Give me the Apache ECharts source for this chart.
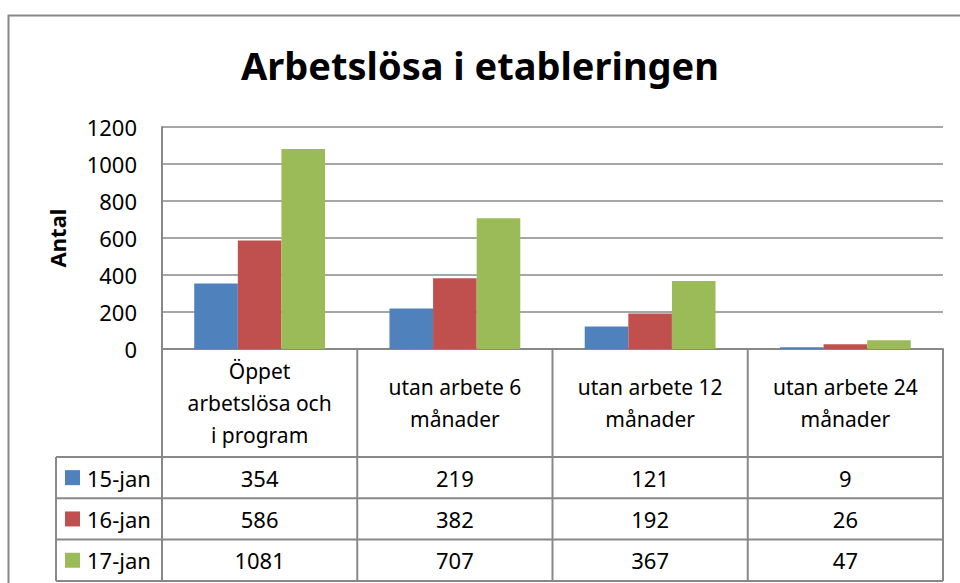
<!DOCTYPE html>
<html>
<head>
<meta charset="utf-8">
<script src="https://cdn.jsdelivr.net/npm/echarts@6/dist/echarts.min.js"></script>
<style>
  html, body { margin: 0; padding: 0; background: #fff; }
  #chart { width: 960px; height: 583px; }
</style>
</head>
<body>
<div id="chart"></div>
<script>
// data
var categories = ["Öppet\narbetslösa och\ni program", "utan arbete 6\nmånader", "utan arbete 12\nmånader", "utan arbete 24\nmånader"];
var seriesNames = ["15-jan", "16-jan", "17-jan"];
var jan15 = [354, 219, 121, 9];
var jan16 = [586, 382, 192, 26];
var jan17 = [1081, 707, 367, 47];
var yMin = 0, yMax = 1200, yStep = 200;

var colors = ["#4F81BD", "#C0504D", "#9BBB59"];
var values = [jan15, jan16, jan17];
var font = "'Noto Sans', sans-serif";
var lineColor = "#888888";

var chart = echarts.init(document.getElementById("chart"), null, { renderer: "svg" });

var option = {
  animation: false,
  color: colors,
  title: {
    text: "Arbetslösa i etableringen",
    left: "center",
    top: 41,
    textStyle: { fontFamily: font, fontSize: 38, fontWeight: "bold", color: "#000" }
  },
  grid: { left: 162, right: 17, top: 127, bottom: 234 },
  xAxis: {
    type: "category",
    data: categories,
    axisLine: { lineStyle: { color: lineColor, width: 2 } },
    axisTick: { show: false },
    axisLabel: {
      interval: 0,
      margin: 54,
      verticalAlign: "middle",
      align: "center",
      lineHeight: 32,
      fontFamily: font,
      fontSize: 21,
      color: "#000"
    }
  },
  yAxis: {
    type: "value",
    min: yMin,
    max: yMax,
    interval: yStep,
    name: "Antal",
    nameLocation: "middle",
    nameRotate: 90,
    nameGap: 94,
    nameTextStyle: { fontFamily: font, fontSize: 22, fontWeight: "bold", color: "#000" },
    axisLine: { show: true, lineStyle: { color: lineColor, width: 2 } },
    axisTick: { show: false },
    axisLabel: {
      margin: 25, fontFamily: font, fontSize: 22, color: "#000",
      formatter: function (v) { return String(v); }
    },
    splitLine: { lineStyle: { color: lineColor, width: 1.5 } }
  },
  series: seriesNames.map(function (name, i) {
    return {
      name: name,
      type: "bar",
      data: values[i],
      barGap: "0%",
      barCategoryGap: "33%",
      itemStyle: { color: colors[i] }
    };
  })
};
chart.setOption(option);

// data table under the plot
function drawTable() {
  var c0 = chart.convertToPixel({ xAxisIndex: 0 }, 0);
  var c1 = chart.convertToPixel({ xAxisIndex: 0 }, 1);
  var step = c1 - c0;
  var left = c0 - step / 2;
  var yBase = chart.convertToPixel({ yAxisIndex: 0 }, 0);
  var headerBottom = 457;
  var rowH = 41.3;
  var keyLeft = 56;
  var tableBottom = headerBottom + rowH * seriesNames.length;
  var els = [];

  els.push({
    type: "rect",
    shape: { x: 8.5, y: 15.5, width: 1000, height: 1000 },
    style: { fill: null, stroke: lineColor, lineWidth: 2 },
    z: -1
  });

  for (var i = 0; i <= categories.length; i++) {
    var x = left + i * step;
    els.push({
      type: "line",
      shape: { x1: x, y1: yBase, x2: x, y2: tableBottom },
      style: { stroke: lineColor, lineWidth: 2 }
    });
  }
  els.push({
    type: "line",
    shape: { x1: keyLeft, y1: headerBottom, x2: keyLeft, y2: tableBottom },
    style: { stroke: lineColor, lineWidth: 2 }
  });
  for (var r = 0; r <= seriesNames.length; r++) {
    var y = headerBottom + r * rowH;
    els.push({
      type: "line",
      shape: { x1: keyLeft, y1: y, x2: left + categories.length * step, y2: y },
      style: { stroke: lineColor, lineWidth: 2 }
    });
  }

  seriesNames.forEach(function (name, s) {
    var cy = headerBottom + s * rowH + rowH / 2;
    els.push({
      type: "rect",
      shape: { x: 65, y: cy - 7.5, width: 15, height: 15 },
      style: { fill: colors[s] }
    });
    els.push({
      type: "text",
      x: 87, y: cy,
      style: { text: name, fontFamily: font, fontSize: 22, fill: "#000", align: "left", verticalAlign: "middle" }
    });
    values[s].forEach(function (v, k) {
      els.push({
        type: "text",
        x: left + k * step + step / 2, y: cy,
        style: { text: String(v), fontFamily: font, fontSize: 22, fill: "#000", align: "center", verticalAlign: "middle" }
      });
    });
  });

  chart.setOption({ graphic: els });
}
drawTable();
</script>
</body>
</html>
